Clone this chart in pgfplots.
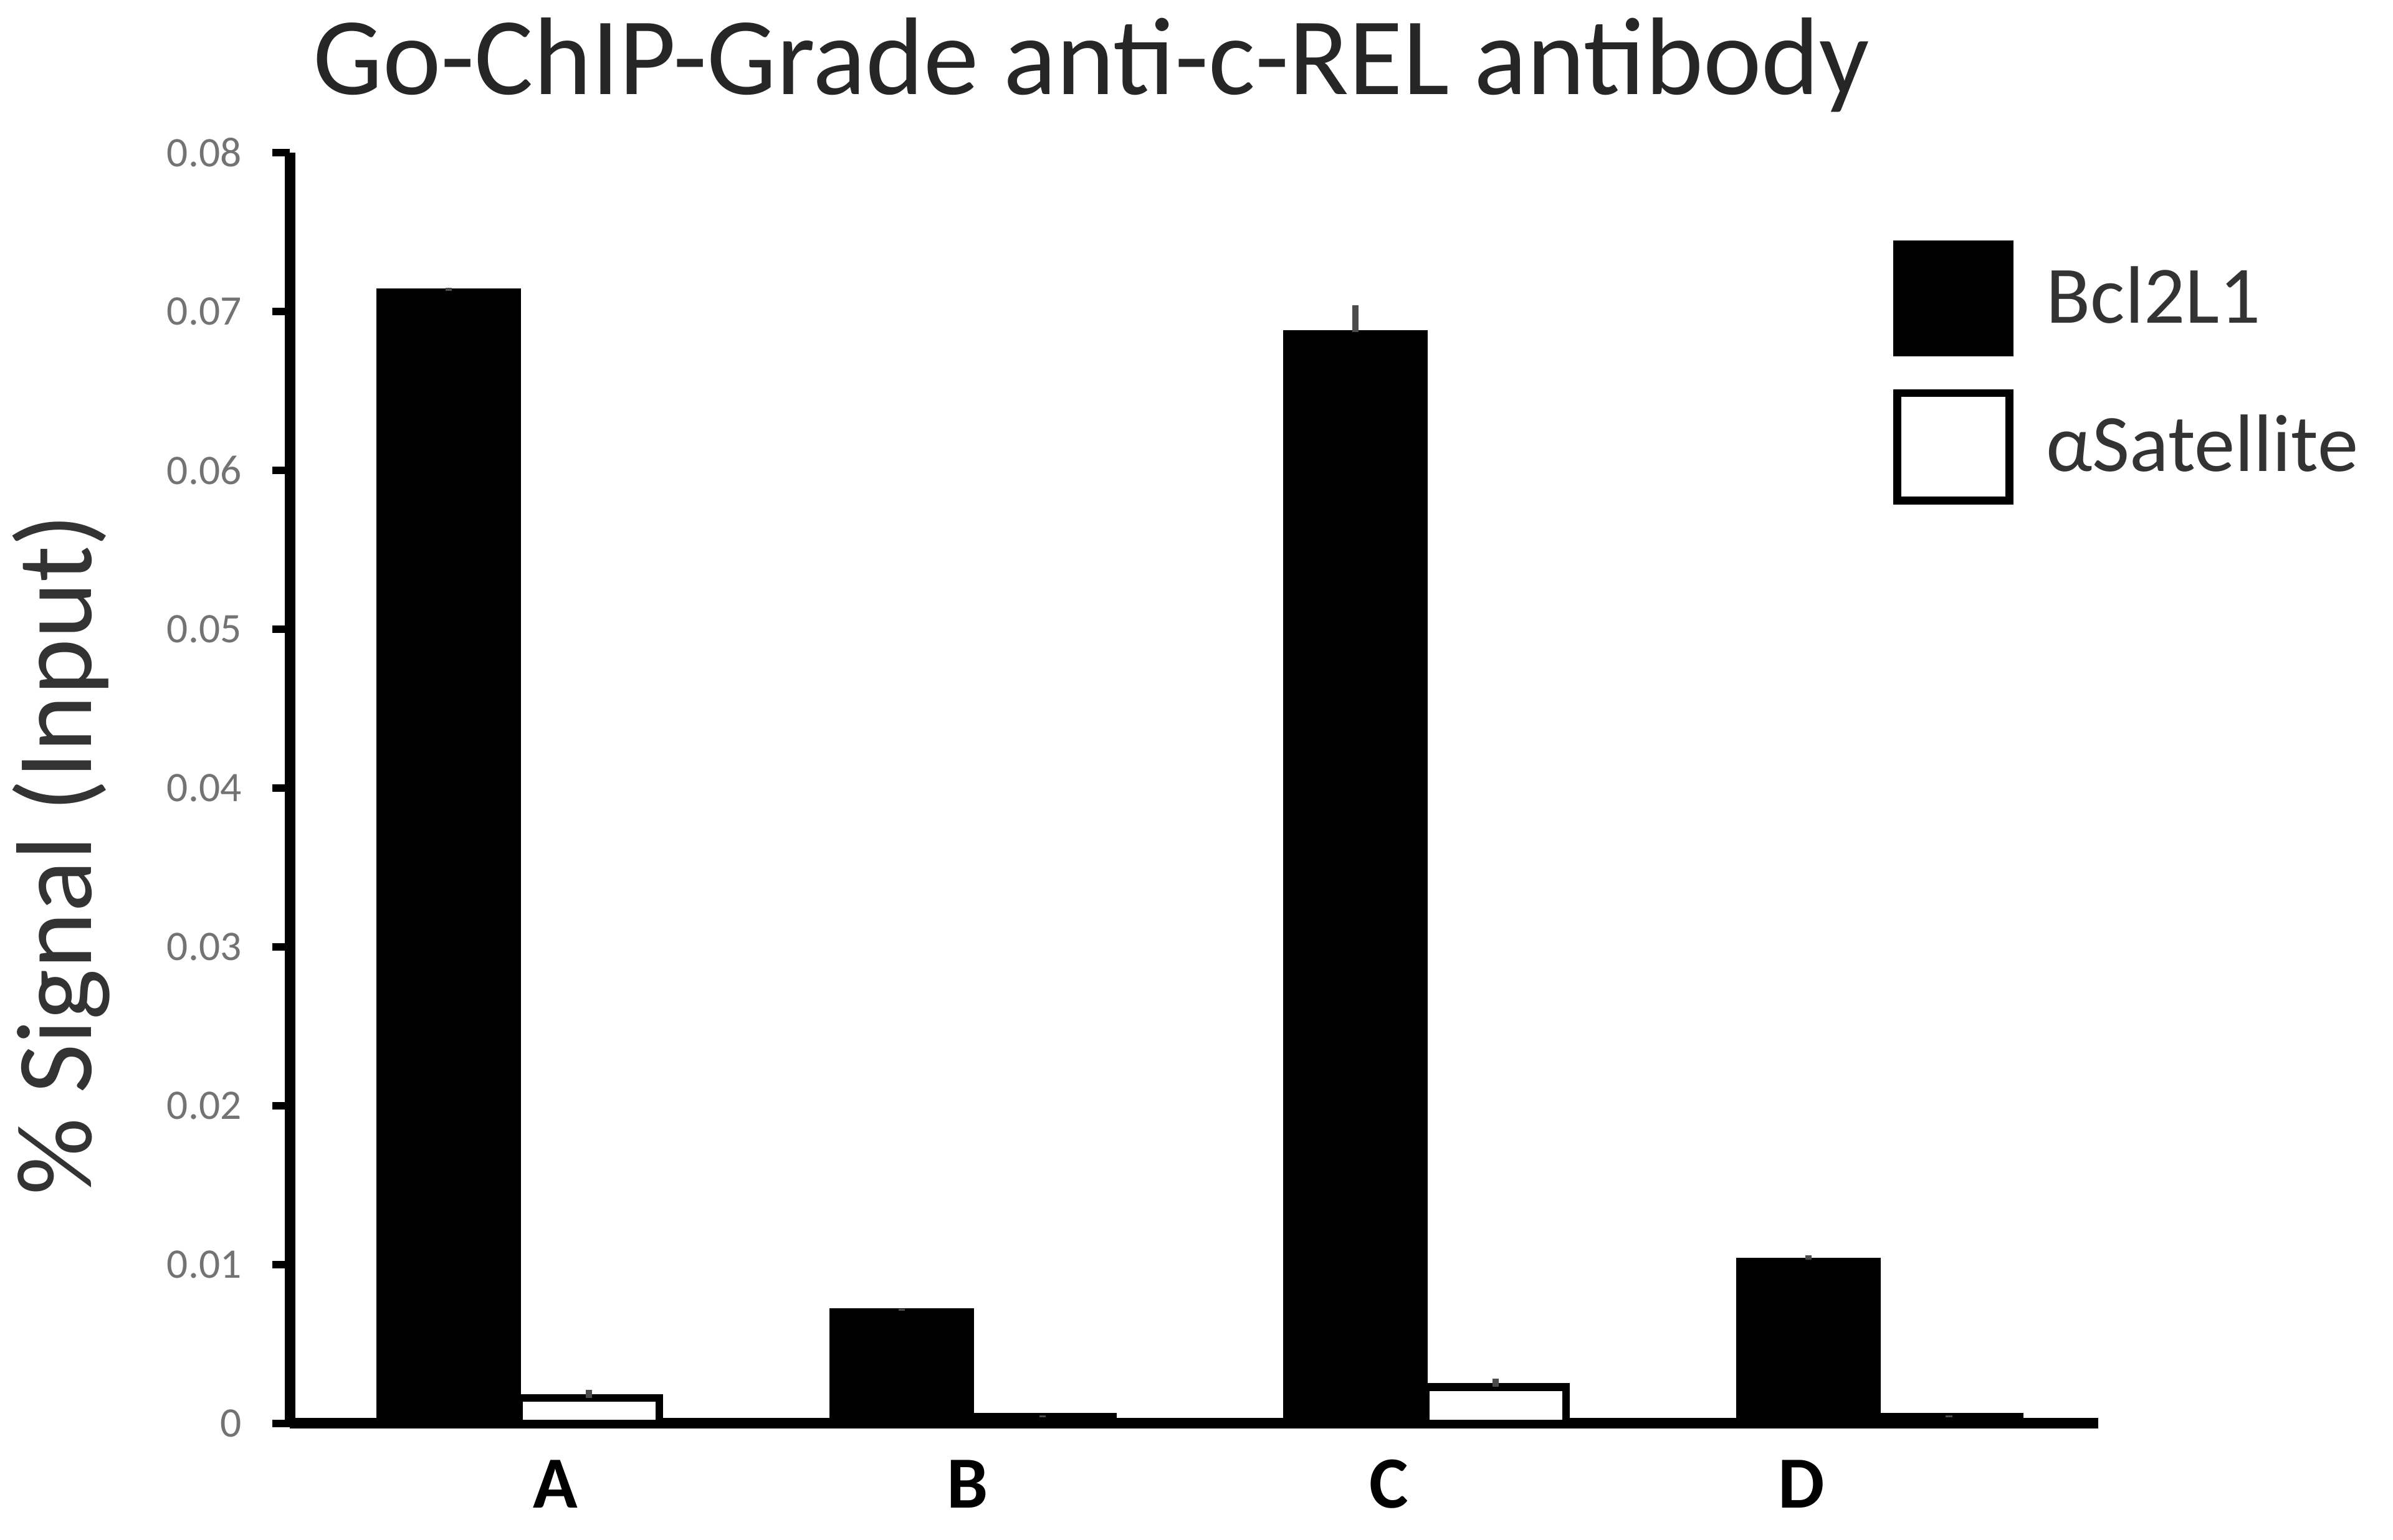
\documentclass[border=0pt]{standalone}
\usepackage{fontspec}
\setmainfont{Carlito}
\usepackage{pgfplots}
\pgfplotsset{compat=1.18}
\begin{document}
\begin{tikzpicture}
\begin{axis}[
  name=ax,
  at={(0,0)}, anchor=south west,
  scale only axis,
  width=12.092cm, height=8.5cm,
  xmin=-0.505, xmax=3.485,
  ymin=0, ymax=0.08,
  axis lines*=left,
  axis line style={line width=2pt},
  ybar=0pt, bar width=0.31,
  clip=false,
  scaled y ticks=false,
  xtick={0.08,0.99,1.92,2.83},
  xticklabels={A,B,C,D},
  xtick style={draw=none},
  xticklabel style={font=\fontsize{14}{14}\selectfont\bfseries, yshift=0cm},
  ytick={0,0.01,0.02,0.03,0.04,0.05,0.06,0.07,0.08},
  yticklabels={0,0.01,0.02,0.03,0.04,0.05,0.06,0.07,0.08},
  ytick pos=left,
  tick align=outside,
  major tick length=0.12cm,
  ytick style={line width=1.5pt, black},
  yticklabel style={font=\fontsize{8}{8}\selectfont, text=black!55, xshift=-0.08cm},
  /pgf/number format/assume math mode=true,
  legend style={at={(0.886,0.9315)}, anchor=north west, draw=none, fill=none,
    inner sep=0pt, row sep=0.22cm, font=\fontsize{15.5}{15.5}\selectfont, text=black!80,
    nodes={inner sep=0pt}, column sep=0.22cm},
  legend cell align=left,
  legend image code/.code={\draw[#1, line width=1.5pt] (0cm,-0.36cm) rectangle (0.75cm,0.36cm);},
  error bars/y dir=plus, error bars/y explicit,
  error bars/error mark=none,
  error bars/error bar style={line width=1.2pt, black!70},
]
\addplot[fill=black, draw=black, line width=0.8pt] coordinates {
  (0,0.0713) +- (0,0.0002)
  (1,0.0071) +- (0,0.0001)
  (2,0.0687) +- (0,0.0017)
  (3,0.0103) +- (0,0.0003)
};
\addplot[fill=white, draw=black, line width=1.5pt] coordinates {
  (0,0.0016) +- (0,0.0005)
  (1,0.0004) +- (0,0.0001)
  (2,0.0023) +- (0,0.0005)
  (3,0.0004) +- (0,0.0001)
};
\legend{Bcl2L1, αSatellite}
\end{axis}
\node[anchor=base west, font=\fontsize{21}{21}\selectfont, text=black!85] at (0.03,8.887) {Go-ChIP-Grade anti-c-REL antibody};
\node[rotate=90, font=\fontsize{20.5}{20.5}\selectfont, text=black!80] at (-1.531,3.806) {\% Signal (Input)};
\pgfresetboundingbox
\useasboundingbox (-1.939,-0.776) rectangle (14.061,9.52);
\end{tikzpicture}
\end{document}
